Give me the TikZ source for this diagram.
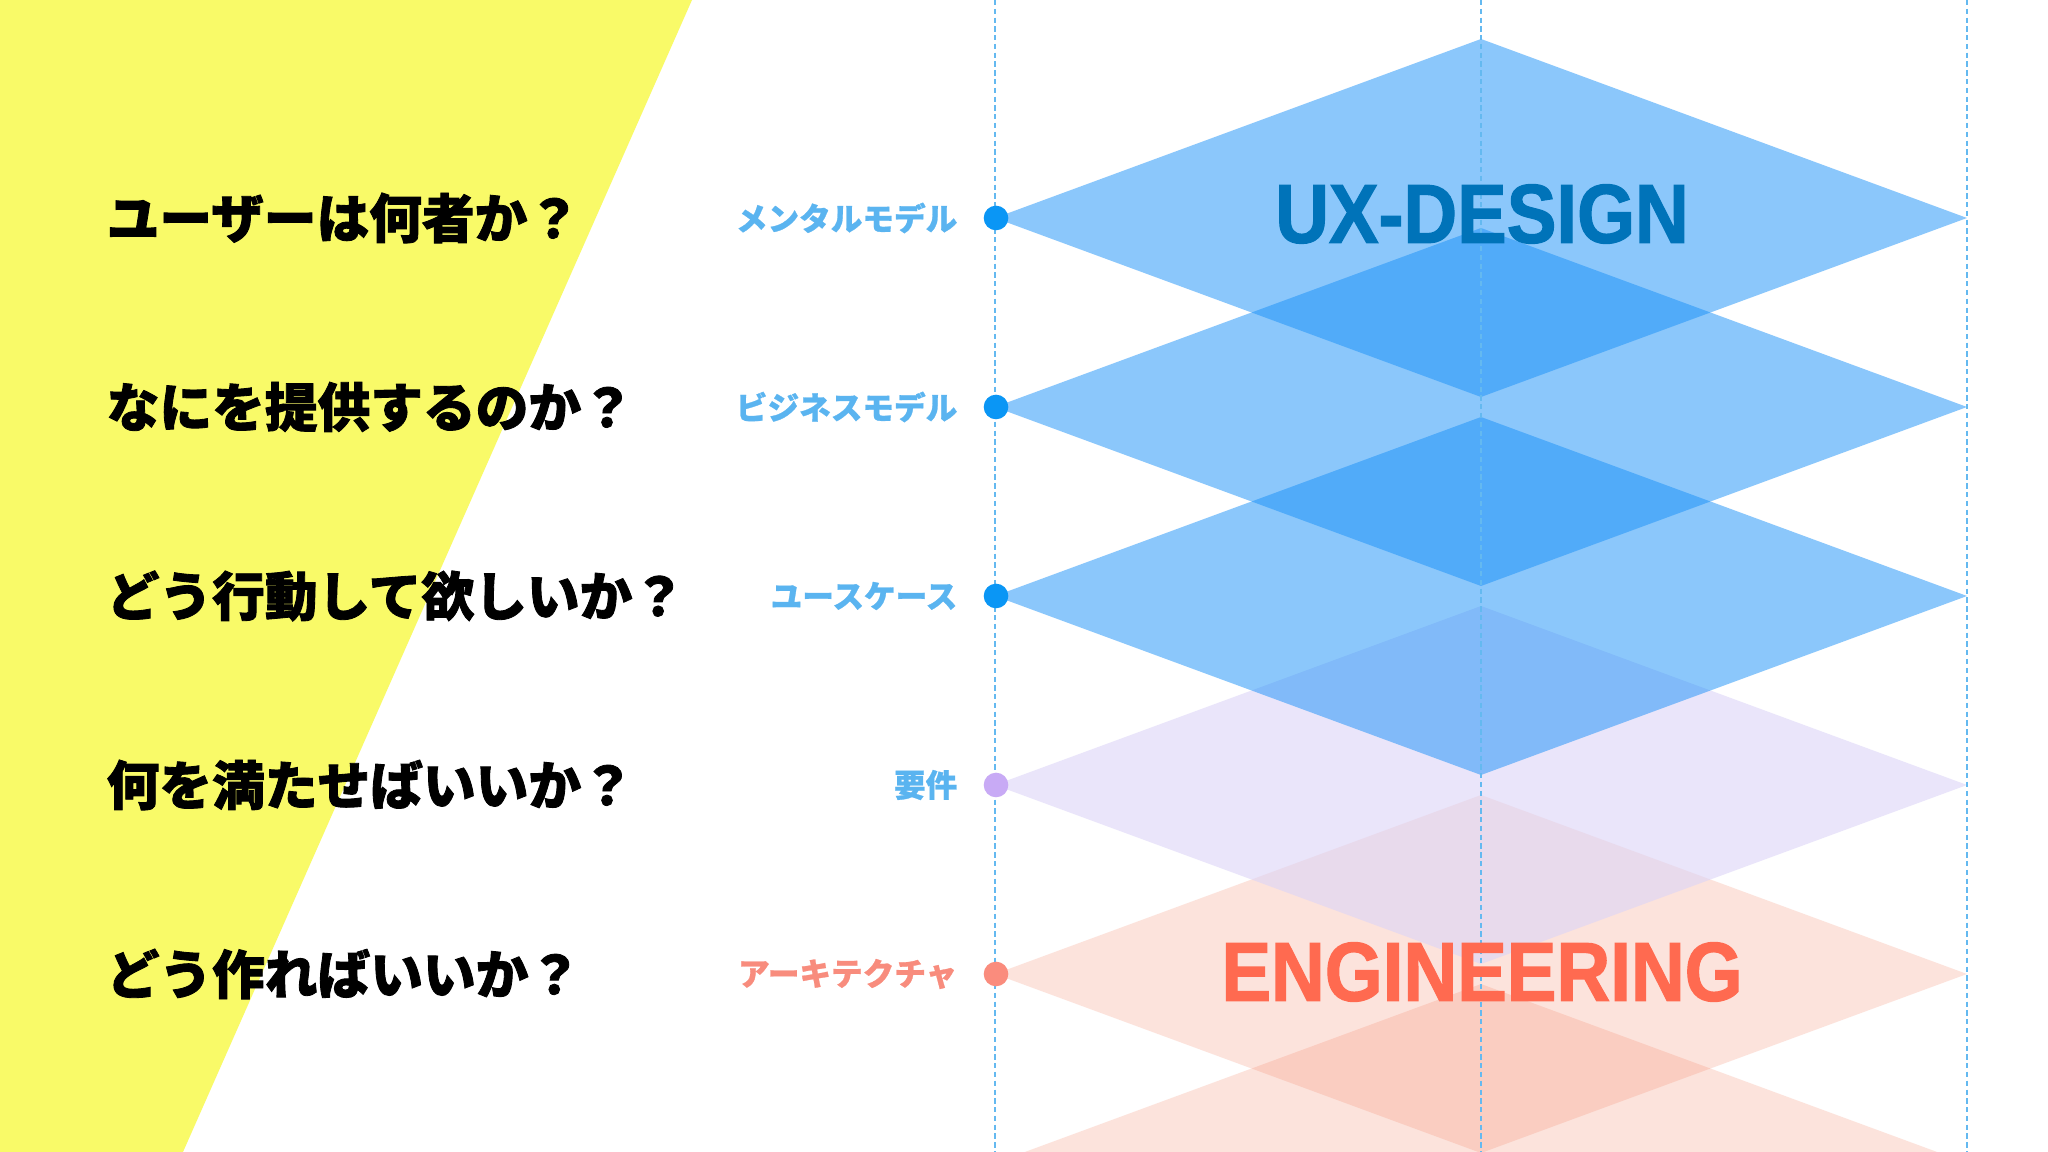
\documentclass[tikz,border=0pt]{standalone}
\usepackage{fontspec}
\newfontfamily\jp{Noto Sans CJK JP}
\newfontfamily\jpq{Noto Sans CJK JP}[FakeBold=1.6]
\newfontfamily\jpl{Noto Sans CJK JP}[FakeBold=0.8]
\newfontfamily\cond{Liberation Sans Bold}[FakeStretch=0.89,FakeBold=1.4]
\definecolor{yel}{RGB}{249,250,104}
\definecolor{bluefill}{RGB}{25,145,249}
\definecolor{purplefill}{RGB}{220,212,248}
\definecolor{orangefill}{RGB}{245,130,100}
\definecolor{guideblue}{RGB}{100,185,240}
\definecolor{lblblue}{RGB}{90,180,240}
\definecolor{lblsalmon}{RGB}{248,140,125}
\definecolor{dotblue}{RGB}{10,150,245}
\definecolor{dotpurple}{RGB}{200,170,245}
\definecolor{dotsalmon}{RGB}{250,140,125}
\definecolor{uxblue}{RGB}{0,115,185}
\definecolor{engred}{RGB}{255,106,80}
\newcommand\mydiam[2]{\fill[#2] (995,#1) -- (1481,{#1-179}) -- (1967,#1) -- (1481,{#1+179}) -- cycle;}
\begin{document}
\begin{tikzpicture}[x=0.1mm,y=-0.1mm,
  qtext/.style={anchor=west,font=\jpq\bfseries\fontsize{15pt}{16pt}\selectfont,text=black,inner sep=0},
  lbl/.style={anchor=east,font=\jpl\bfseries\fontsize{9pt}{10pt}\selectfont,inner sep=0},
  dotnode/.style={circle,inner sep=0,minimum size=2.46mm},
  guide/.style={draw=guideblue,line width=0.45pt,dash pattern=on 1.5pt off 1pt},
  bigword/.style={font=\cond\fontsize{23.8pt}{26pt}\selectfont,inner sep=0},
  bl/.style={fill=bluefill,fill opacity=0.5},
  pu/.style={fill=purplefill,fill opacity=0.6},
  orr/.style={fill=orangefill,fill opacity=0.22}]
\useasboundingbox (0,0) rectangle (2048,1152);
\fill[white] (0,0) rectangle (2048,1152);
\fill[yel] (0,0) -- (692,0) -- (183,1152) -- (0,1152) -- cycle;
\begin{scope}
\clip (0,0) rectangle (2048,1152);
\mydiam{1163}{orr}
\mydiam{974}{orr}
\mydiam{785}{pu}
\mydiam{596}{bl}
\mydiam{407}{bl}
\mydiam{218}{bl}
\end{scope}
\coordinate (g1t) at (995,0); \coordinate (g1b) at (995,1152);
\coordinate (g2t) at (1481,0); \coordinate (g2b) at (1481,1152);
\coordinate (g3t) at (1967,0); \coordinate (g3b) at (1967,1152);
\draw[guide] (g1t) -- (g1b);
\draw[guide] (g2t) -- (g2b);
\draw[guide] (g3t) -- (g3b);
\node[dotnode,fill=dotblue] (d1) at (996,218) {};
\node[dotnode,fill=dotblue] (d2) at (996,407) {};
\node[dotnode,fill=dotblue] (d3) at (996,596) {};
\node[dotnode,fill=dotpurple] (d4) at (996,785) {};
\node[dotnode,fill=dotsalmon] (d5) at (996,974) {};
\node[lbl,text=lblblue] (l1) at (958,218) {メンタルモデル};
\node[lbl,text=lblblue] (l2) at (958,407) {ビジネスモデル};
\node[lbl,text=lblblue] (l3) at (958,596) {ユースケース};
\node[lbl,text=lblblue] (l4) at (958,785) {要件};
\node[lbl,text=lblsalmon] (l5) at (958,974) {アーキテクチャ};
\node[qtext] (q1) at (106,218) {ユーザーは何者か？};
\node[qtext] (q2) at (106,407) {なにを提供するのか？};
\node[qtext] (q3) at (106,596) {どう行動して欲しいか？};
\node[qtext] (q4) at (106,785) {何を満たせばいいか？};
\node[qtext] (q5) at (106,974) {どう作ればいいか？};
\node[bigword,text=uxblue] (ux) at (1482,214) {UX-DESIGN};
\node[bigword,text=engred] (eng) at (1482,972) {ENGINEERING};
\end{tikzpicture}
\end{document}
